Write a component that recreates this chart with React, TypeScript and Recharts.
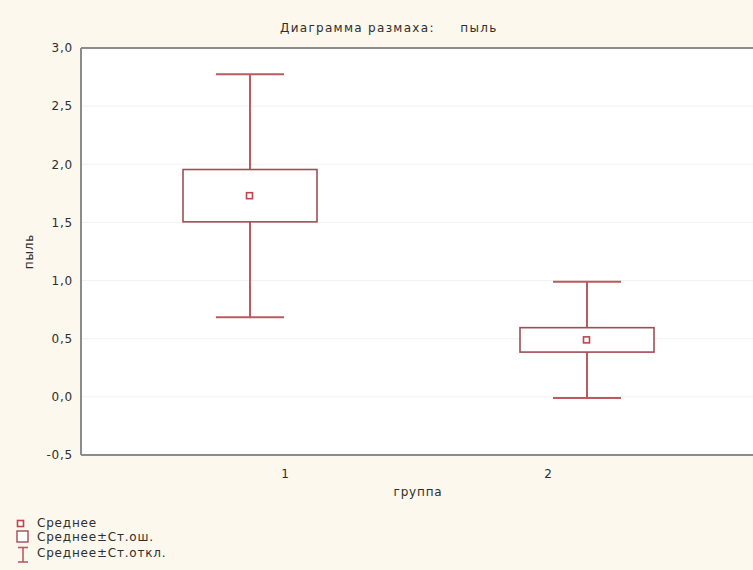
import React from 'react';
import { ComposedChart, Bar, Scatter, XAxis, YAxis, CartesianGrid, ReferenceLine } from 'recharts';

const groups = ['1', '2'];
const means = [1.73, 0.49];
const stdErrs = [0.225, 0.105];
const stdDevs = [1.045, 0.5];
const yTicks = [-0.5, 0, 0.5, 1, 1.5, 2, 2.5, 3];
const tickLabelShift = [36, -38];

const data = groups.map((g, i) => ({
  group: g,
  mean: means[i],
  seRange: [means[i] - stdErrs[i], means[i] + stdErrs[i]],
  sdRange: [means[i] - stdDevs[i], means[i] + stdDevs[i]],
}));

const FONT = '"DejaVu Sans", "Liberation Sans", Arial, sans-serif';
const TEXT = '#2e2e2e';
const WHISKER = '#bb5a61';
const BOX = '#9e4f55';
const MEAN = '#c0434b';
const AXIS = '#8c8c8c';
const BG = '#fcf8ed';

const WhiskerShape = (props: any) => {
  const { x, y, width, height } = props;
  const top = Math.min(y, y + height);
  const bot = Math.max(y, y + height);
  const cx = x + width / 2;
  return (
    <g stroke={WHISKER} strokeWidth={2} fill="none">
      <line x1={cx} x2={cx} y1={top} y2={bot} />
      <line x1={x} x2={x + width} y1={top} y2={top} />
      <line x1={x} x2={x + width} y1={bot} y2={bot} />
    </g>
  );
};

const BoxShape = (props: any) => {
  const { x, y, width, height } = props;
  const top = Math.min(y, y + height);
  const h = Math.abs(height);
  return <rect x={x} y={top} width={width} height={h} fill="#fff" stroke={BOX} strokeWidth={1.6} />;
};

const MeanShape = (props: any) => {
  const { cx, cy } = props;
  return <rect x={cx - 3} y={cy - 3} width={6} height={6} fill="#fff" stroke={MEAN} strokeWidth={1.6} />;
};

const XTick = (props: any) => {
  const { x, y, payload, index } = props;
  return (
    <text x={x + (tickLabelShift[index] || 0)} y={y + 23} textAnchor="middle" fill={TEXT}
      fontSize={12} fontFamily={FONT} letterSpacing={0.8}>
      {payload.value}
    </text>
  );
};

const fmt = (v: number) => v.toFixed(1).replace('.', ',');

export default function App() {
  return (
    <div style={{ position: 'absolute', left: 0, top: 0, width: 753, height: 570, overflow: 'hidden', background: BG, fontFamily: FONT }}>
      <div style={{ position: 'absolute', left: 280, top: 21, fontSize: 12, color: TEXT, letterSpacing: 1.3, whiteSpace: 'pre', lineHeight: '14px' }}>
        {'Диаграмма размаха:     пыль'}
      </div>
      <ComposedChart width={757} height={570} data={data} margin={{ top: 48, right: 2, left: 0, bottom: 65 }}>
        <CartesianGrid vertical={false} horizontal={true} stroke="#f2f2f2" fill="#ffffff" xAxisId="main" />
        <XAxis xAxisId="main" dataKey="group" type="category" height={50}
          axisLine={{ stroke: AXIS, strokeWidth: 2 }} tickLine={false} tickSize={0} tickMargin={0}
          tick={<XTick />}
          label={{
            content: (p: any) => {
              const vb = p.viewBox;
              return (
                <text x={vb.x + vb.width / 2} y={vb.y + 41} textAnchor="middle" fill={TEXT}
                  fontSize={12} fontFamily={FONT} letterSpacing={0.8}>группа</text>
              );
            },
          }}
        />
        <XAxis xAxisId="whisk" dataKey="group" type="category" hide height={0} />
        <XAxis xAxisId="box" dataKey="group" type="category" hide height={0} />
        <YAxis type="number" domain={[-0.5, 3]} ticks={yTicks} width={81} interval={0}
          axisLine={{ stroke: AXIS, strokeWidth: 2 }} tickLine={false} tickSize={4} tickMargin={4}
          tickFormatter={fmt} allowDataOverflow
          tick={{ fill: TEXT, fontSize: 12, fontFamily: FONT, letterSpacing: 0.8 }}
          label={{
            content: (p: any) => {
              const vb = p.viewBox;
              const cy = vb.y + vb.height / 2;
              return (
                <text x={33} y={cy} textAnchor="middle" fill={TEXT} fontSize={12} fontFamily={FONT}
                  letterSpacing={0.8} transform={`rotate(-90, 33, ${cy})`}>пыль</text>
              );
            },
          }}
        />
        <ReferenceLine xAxisId="main" y={3} stroke={AXIS} strokeWidth={2} />
        <Bar xAxisId="whisk" dataKey="sdRange" barSize={68} shape={<WhiskerShape />} isAnimationActive={false} />
        <Bar xAxisId="box" dataKey="seRange" barSize={134} shape={<BoxShape />} isAnimationActive={false} />
        <Scatter xAxisId="main" dataKey="mean" shape={<MeanShape />} isAnimationActive={false} />
      </ComposedChart>
      <div style={{ position: 'absolute', left: 0, top: 0, fontSize: 12, color: TEXT, letterSpacing: 0.8 }}>
        <svg style={{ position: 'absolute', left: 0, top: 510 }} width={40} height={60}>
          <rect x={17.5} y={10.5} width={6} height={6} fill="#fff" stroke={MEAN} strokeWidth={1.6} />
          <rect x={17} y={21} width={11} height={11} fill="#fff" stroke={BOX} strokeWidth={1.4} />
          <g stroke={WHISKER} strokeWidth={1.6}>
            <line x1={18} x2={28} y1={37.5} y2={37.5} />
            <line x1={23} x2={23} y1={37.5} y2={52} />
            <line x1={18} x2={28} y1={52} y2={52} />
          </g>
        </svg>
        <div style={{ position: 'absolute', left: 37, top: 516, whiteSpace: 'nowrap', lineHeight: '14px' }}>Среднее</div>
        <div style={{ position: 'absolute', left: 37, top: 530, whiteSpace: 'nowrap', lineHeight: '14px' }}>Среднее±Ст.ош.</div>
        <div style={{ position: 'absolute', left: 37, top: 546, whiteSpace: 'nowrap', lineHeight: '14px' }}>Среднее±Ст.откл.</div>
      </div>
    </div>
  );
}
